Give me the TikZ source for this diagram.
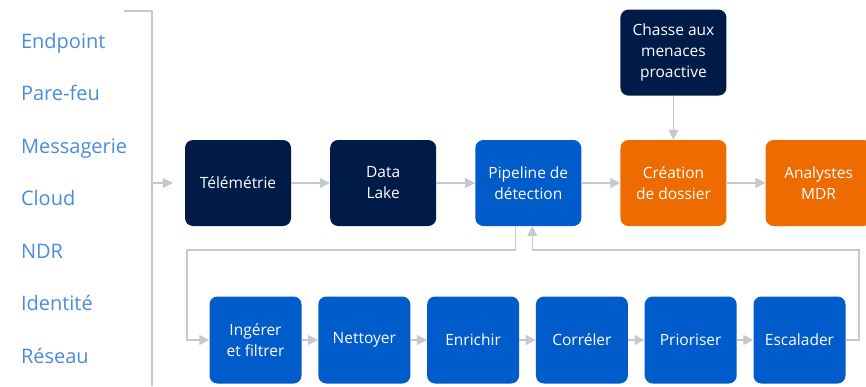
\documentclass[tikz,border=0pt]{standalone}
\usepackage{fontspec}
\setmainfont{Open Sans}
\usetikzlibrary{positioning, arrows.meta}
\definecolor{navy}{HTML}{011B48}
\definecolor{mainblue}{HTML}{005BCB}
\definecolor{caseorange}{HTML}{EE6B00}
\definecolor{srcblue}{HTML}{4A8CDB}
\definecolor{linegray}{HTML}{C5C8CE}

\begin{document}
\begin{tikzpicture}[x=1pt, y=-1pt,
  box/.style={rounded corners=8pt, minimum width=106pt, minimum height=86pt, inner sep=2pt,
    align=center, text=white, font=\fontsize{15.5}{21}\selectfont},
  stepbox/.style={box, fill=mainblue, minimum width=92pt, minimum height=87pt},
  link/.style={draw=linegray, line width=1.3pt, -{Triangle[length=10pt,width=10pt]}}]
\useasboundingbox (0,0) rectangle (866,386);
% sources
\foreach \src [count=\i from 0] in {Endpoint,Pare-feu,Messagerie,Cloud,NDR,Identité,Réseau}
  \node[anchor=base west, text=srcblue, font=\fontsize{20}{24}\selectfont] (src\i) at (17.5,48+52.5*\i) {\src};
\coordinate (brtop) at (124,11);
\coordinate (brbot) at (152,386);
\coordinate (brk) at (152,183);
\draw[linegray, line width=1.3pt] (brtop) -| (brbot);

% main chain
\node[box, fill=navy]                       (tel)  at (238,183) {Télémétrie};
\node[box, fill=navy, right=38.75pt of tel]        (lake) {Data\\Lake};
\node[box, fill=mainblue, right=38.75pt of lake]   (pipe) {Pipeline de\\détection};
\node[box, fill=caseorange, right=38.75pt of pipe] (case) {Création\\de dossier};
\node[box, fill=caseorange, right=38.75pt of case] (mdr)  {Analystes\\MDR};
\node[box, fill=navy, above=44pt of case]          (hunt) {Chasse aux\\menaces\\proactive};

% pipeline steps
\node[stepbox]                       (ingest) at (255.5,340) {Ingérer\\et filtrer};
\node[stepbox, right=16.4pt of ingest] (clean)  {Nettoyer};
\node[stepbox, right=16.4pt of clean]  (enrich) {Enrichir};
\node[stepbox, right=16.4pt of enrich] (correl) {Corréler};
\node[stepbox, right=16.4pt of correl] (prio)   {Prioriser};
\node[stepbox, right=16.4pt of prio]   (esc)    {Escalader};

\draw[link] (brk) -- ([xshift=-12pt]tel.west);
\foreach \a/\b in {tel/lake, lake/pipe, pipe/case, case/mdr, hunt/case,
  ingest/clean, clean/enrich, enrich/correl, correl/prio, prio/esc}
  \draw[link] (\a) -- (\b);

% loop through the steps
\coordinate (loopL) at (187,250);
\coordinate (loopR) at (859,250);
\draw[link] ([xshift=-13pt]pipe.south) |- (loopL) |- (ingest.west);
\draw[link] (esc.east) -| (loopR) -| ([xshift=4pt]pipe.south);
\end{tikzpicture}
\end{document}
